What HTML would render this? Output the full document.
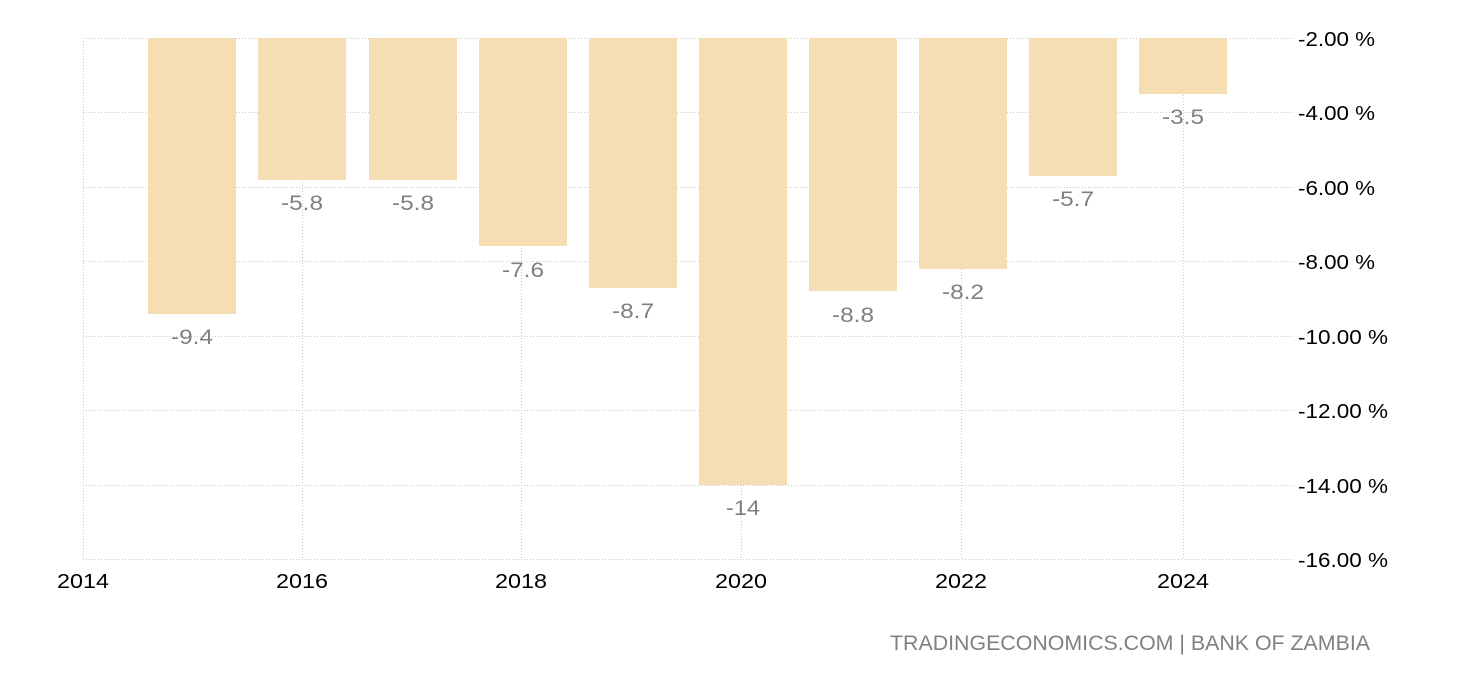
<!DOCTYPE html>
<html><head><style>
body{margin:0;background:#fff;}
svg text{font-family:"Liberation Sans",Arial,sans-serif;}
</style></head><body>
<svg width="1460" height="680" xmlns="http://www.w3.org/2000/svg">
<g stroke="#c8c8c8" stroke-width="1" stroke-dasharray="1,2">
<line x1="83" y1="38.5" x2="1293" y2="38.5"/>
<line x1="83" y1="112.5" x2="1293" y2="112.5"/>
<line x1="83" y1="187.5" x2="1293" y2="187.5"/>
<line x1="83" y1="261.5" x2="1293" y2="261.5"/>
<line x1="83" y1="336.5" x2="1293" y2="336.5"/>
<line x1="83" y1="410.5" x2="1293" y2="410.5"/>
<line x1="83" y1="485.5" x2="1293" y2="485.5"/>
<line x1="83" y1="559.5" x2="1293" y2="559.5"/>
<line x1="83.5" y1="38" x2="83.5" y2="560"/>
<line x1="302.5" y1="38" x2="302.5" y2="560"/>
<line x1="521.5" y1="38" x2="521.5" y2="560"/>
<line x1="741.5" y1="38" x2="741.5" y2="560"/>
<line x1="961.5" y1="38" x2="961.5" y2="560"/>
<line x1="1183.5" y1="38" x2="1183.5" y2="560"/>
</g>
<g fill="#f5deb3">
<rect x="148" y="38" width="88" height="276"/>
<rect x="258" y="38" width="88" height="142"/>
<rect x="369" y="38" width="88" height="142"/>
<rect x="479" y="38" width="88" height="208"/>
<rect x="589" y="38" width="88" height="250"/>
<rect x="699" y="38" width="88" height="447"/>
<rect x="809" y="38" width="88" height="253"/>
<rect x="919" y="38" width="88" height="231"/>
<rect x="1029" y="38" width="88" height="138"/>
<rect x="1139" y="38" width="88" height="56"/>
</g>
<g fill="#808080" font-size="21" text-anchor="middle">
<text x="192" y="344" textLength="42" lengthAdjust="spacingAndGlyphs">-9.4</text>
<text x="302" y="210" textLength="42" lengthAdjust="spacingAndGlyphs">-5.8</text>
<text x="413" y="210" textLength="42" lengthAdjust="spacingAndGlyphs">-5.8</text>
<text x="523" y="277" textLength="42" lengthAdjust="spacingAndGlyphs">-7.6</text>
<text x="633" y="318" textLength="42" lengthAdjust="spacingAndGlyphs">-8.7</text>
<text x="743" y="515" textLength="34" lengthAdjust="spacingAndGlyphs">-14</text>
<text x="853" y="322" textLength="42" lengthAdjust="spacingAndGlyphs">-8.8</text>
<text x="963" y="299" textLength="42" lengthAdjust="spacingAndGlyphs">-8.2</text>
<text x="1073" y="206" textLength="42" lengthAdjust="spacingAndGlyphs">-5.7</text>
<text x="1183" y="124" textLength="42" lengthAdjust="spacingAndGlyphs">-3.5</text>
</g>
<g fill="#000" font-size="20">
<text x="1298" y="46" textLength="77" lengthAdjust="spacingAndGlyphs">-2.00 %</text>
<text x="1298" y="120" textLength="77" lengthAdjust="spacingAndGlyphs">-4.00 %</text>
<text x="1298" y="195" textLength="77" lengthAdjust="spacingAndGlyphs">-6.00 %</text>
<text x="1298" y="269" textLength="77" lengthAdjust="spacingAndGlyphs">-8.00 %</text>
<text x="1298" y="344" textLength="90" lengthAdjust="spacingAndGlyphs">-10.00 %</text>
<text x="1298" y="418" textLength="90" lengthAdjust="spacingAndGlyphs">-12.00 %</text>
<text x="1298" y="493" textLength="90" lengthAdjust="spacingAndGlyphs">-14.00 %</text>
<text x="1298" y="567" textLength="90" lengthAdjust="spacingAndGlyphs">-16.00 %</text>
</g>
<g fill="#000" font-size="20" text-anchor="middle">
<text x="83" y="588" textLength="52" lengthAdjust="spacingAndGlyphs">2014</text>
<text x="302" y="588" textLength="52" lengthAdjust="spacingAndGlyphs">2016</text>
<text x="521" y="588" textLength="52" lengthAdjust="spacingAndGlyphs">2018</text>
<text x="741" y="588" textLength="52" lengthAdjust="spacingAndGlyphs">2020</text>
<text x="961" y="588" textLength="52" lengthAdjust="spacingAndGlyphs">2022</text>
<text x="1183" y="588" textLength="52" lengthAdjust="spacingAndGlyphs">2024</text>
</g>
<text x="890" y="650" fill="#808080" font-size="21" textLength="480" lengthAdjust="spacingAndGlyphs">TRADINGECONOMICS.COM | BANK OF ZAMBIA</text>
</svg>
</body></html>
